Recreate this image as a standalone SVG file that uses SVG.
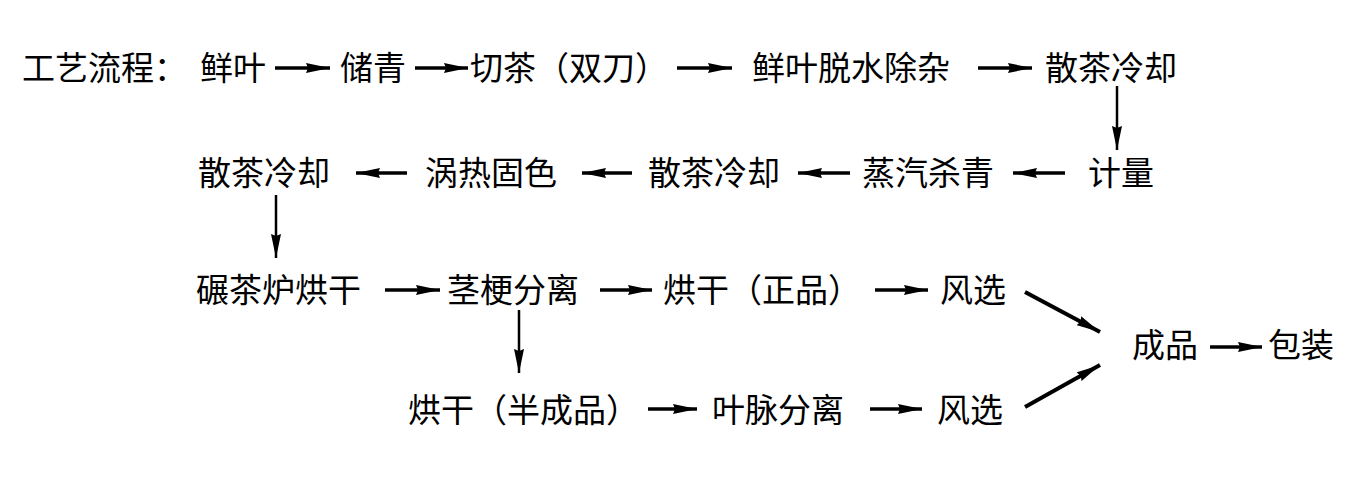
<svg xmlns="http://www.w3.org/2000/svg" width="1368" height="490" viewBox="0 0 1368 490">
<style>
text{font-family:"Noto Sans CJK SC","Noto Sans CJK JP",sans-serif;font-size:33px;fill:#000}
.c line{stroke:#000;stroke-width:3.5}
.c line.v{stroke-width:2.5}
.c line.d{stroke-width:4}
</style>
<defs>
<marker id="ah" viewBox="0 0 24 10" refX="24" refY="5" markerWidth="24" markerHeight="10" markerUnits="userSpaceOnUse" orient="auto">
<path d="M0,0 L24,5 L0,10 L2,5 Z" fill="#000"/>
</marker>
</defs>
<rect width="1368" height="490" fill="#fff"/>
<g id="n-title"><text x="22" y="80">工艺流程：</text></g>
<g id="n1"><text x="200" y="80">鲜叶</text></g>
<g id="n2"><text x="340" y="80">储青</text></g>
<g id="n3"><text x="470" y="80">切茶（双刀）</text></g>
<g id="n4"><text x="752" y="80">鲜叶脱水除杂</text></g>
<g id="n5"><text x="1045" y="80">散茶冷却</text></g>
<g id="n6"><text x="1088" y="185">计量</text></g>
<g id="n7"><text x="862" y="185">蒸汽杀青</text></g>
<g id="n8"><text x="648" y="185">散茶冷却</text></g>
<g id="n9"><text x="425" y="185">涡热固色</text></g>
<g id="n10"><text x="198" y="185">散茶冷却</text></g>
<g id="n11"><text x="196" y="302">碾茶炉烘干</text></g>
<g id="n12"><text x="447" y="302">茎梗分离</text></g>
<g id="n13"><text x="663" y="302">烘干（正品）</text></g>
<g id="n14"><text x="940" y="302">风选</text></g>
<g id="n15"><text x="408" y="422">烘干（半成品）</text></g>
<g id="n16"><text x="712" y="422">叶脉分离</text></g>
<g id="n17"><text x="937" y="422">风选</text></g>
<g id="n18"><text x="1132" y="357">成品</text></g>
<g id="n19"><text x="1268" y="357">包装</text></g>
<g id="connectors" class="c">
<line x1="275" y1="68" x2="330" y2="68" marker-end="url(#ah)"/>
<line x1="415" y1="68" x2="468" y2="68" marker-end="url(#ah)"/>
<line x1="677" y1="68" x2="732" y2="68" marker-end="url(#ah)"/>
<line x1="978" y1="68" x2="1032" y2="68" marker-end="url(#ah)"/>
<line class="v" x1="1117" y1="86" x2="1117" y2="150" marker-end="url(#ah)"/>
<line x1="1065" y1="173" x2="1013" y2="173" marker-end="url(#ah)"/>
<line x1="850" y1="173" x2="798" y2="173" marker-end="url(#ah)"/>
<line x1="632" y1="173" x2="582" y2="173" marker-end="url(#ah)"/>
<line x1="407" y1="173" x2="356" y2="173" marker-end="url(#ah)"/>
<line class="v" x1="276" y1="195" x2="276" y2="258" marker-end="url(#ah)"/>
<line x1="385" y1="290" x2="440" y2="290" marker-end="url(#ah)"/>
<line x1="600" y1="290" x2="652" y2="290" marker-end="url(#ah)"/>
<line x1="875" y1="290" x2="928" y2="290" marker-end="url(#ah)"/>
<line class="v" x1="519" y1="310" x2="519" y2="373" marker-end="url(#ah)"/>
<line x1="648" y1="409" x2="697" y2="409" marker-end="url(#ah)"/>
<line x1="870" y1="409" x2="922" y2="409" marker-end="url(#ah)"/>
<line class="d" x1="1025" y1="292" x2="1100" y2="332" marker-end="url(#ah)"/>
<line class="d" x1="1025" y1="407" x2="1100" y2="365" marker-end="url(#ah)"/>
<line x1="1210" y1="347" x2="1262" y2="347" marker-end="url(#ah)"/>
</g>
</svg>
